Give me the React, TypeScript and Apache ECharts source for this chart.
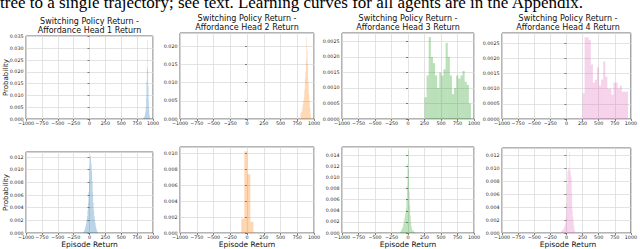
import React, { useEffect, useRef } from "react";
import * as echarts from "echarts";

// ---------- data ----------
const X_MIN = -1000;
const X_MAX = 1000;
const X_STEP = 250;

const captionText =
  "tree to a single trajectory; see text. Learning curves for all agents are in the Appendix.";
const titleLine1 = "Switching Policy Return -";
const headNames = [
  "Affordance Head 1 Return",
  "Affordance Head 2 Return",
  "Affordance Head 3 Return",
  "Affordance Head 4 Return",
];
const yAxisName = "Probability";
const xAxisName = "Episode Return";

// top row: switching policy return histograms (bin start, bin width, densities)
const top1Start = 850;
const top1Width = 6;
const top1Values = [0.0003, 0.0006, 0.001, 0.0015, 0.002, 0.003, 0.005, 0.009, 0.016, 0.022, 0.0335, 0.021, 0.014, 0.008, 0.004, 0.002, 0.001, 0.0005];

const top2Start = 800;
const top2Width = 8;
const top2Values = [0.0015, 0.002, 0.002, 0.003, 0.004, 0.005, 0.006, 0.008, 0.011, 0.013, 0.016, 0.0225, 0.019, 0.015, 0.01, 0.007, 0.005, 0.003, 0.0015];

const top3Start = 250;
const top3Width = 32;
const top3Values = [0.0007, 0.0014, 0.00264, 0.002, 0.0018, 0.0014, 0.001, 0.0015, 0.0014, 0.0016, 0.00245, 0.002, 0.0014, 0.0008, 0.001, 0.0014, 0.0013, 0.0014, 0.00155, 0.0012, 0.0011, 0.0005];

const top4Start = 250;
const top4Width = 32;
const top4Values = [0.00085, 0.0027, 0.0027, 0.0026, 0.0018, 0.0012, 0.0013, 0.0017, 0.0011, 0.0013, 0.0019, 0.0014, 0.001, 0.001, 0.0008, 0.0012, 0.0012, 0.001, 0.0011, 0.0009, 0.0009, 0.0009];

// bottom row: affordance head return histograms
const bot1Start = -96;
const bot1Width = 8;
const bot1Values = [0.0002, 0.0003, 0.0005, 0.0008, 0.0011, 0.0015, 0.002, 0.0027, 0.0036, 0.0048, 0.0065, 0.0085, 0.0105, 0.0122, 0.0118, 0.011, 0.0098, 0.0082, 0.0064, 0.0048, 0.0036, 0.0027, 0.002, 0.0016, 0.0011, 0.0007, 0.0004, 0.0002];

const bot2Start = -85;
const bot2Width = 45;
const bot2Values = [0.0018, 0.0103, 0.0074, 0.0014];

const bot3Start = -120;
const bot3Width = 8;
const bot3Values = [0.0002, 0.0003, 0.0005, 0.0007, 0.0009, 0.0012, 0.0016, 0.0021, 0.0026, 0.0031, 0.0036, 0.0045, 0.006, 0.0085, 0.0125, 0.0148, 0.0115, 0.0075, 0.005, 0.0032, 0.002, 0.0012, 0.0007, 0.0004, 0.0003, 0.0005, 0.0002, 0.0001];

const bot4Start = -80;
const bot4Width = 8;
const bot4Values = [0.0003, 0.0004, 0.0005, 0.0005, 0.0006, 0.0008, 0.001, 0.0013, 0.0018, 0.0025, 0.0045, 0.0075, 0.0095, 0.01, 0.0096, 0.0098, 0.0125, 0.0095, 0.009, 0.0085, 0.006, 0.0035, 0.0025, 0.0018, 0.0012, 0.0006, 0.0003];

// y axis extents (max, tick step, decimals)
const yMaxes = [0.0352, 0.0236, 0.00277, 0.00284, 0.0128, 0.01084, 0.0155, 0.0131];
const ySteps = [0.005, 0.005, 0.0005, 0.0005, 0.002, 0.002, 0.002, 0.002];
const yDecimals = [3, 3, 4, 4, 3, 3, 3, 3];

const palette = ["#1f77b4", "#ff7f0e", "#2ca02c", "#e377c2"];

// ---------- layout ----------
const colLeft = [26, 180, 342, 502];
const colRight = [153, 314, 474, 634];
const topRowTop = [36, 33, 33, 33];
const topRowBottom = 119;
const botRowTop = [152, 147, 147, 148];
const botRowBottom = 233;

function toBins(start: number, width: number, values: number[]) {
  return values.map((v, i) => [start + i * width, start + (i + 1) * width, v]);
}

const panelBins = [
  toBins(top1Start, top1Width, top1Values),
  toBins(top2Start, top2Width, top2Values),
  toBins(top3Start, top3Width, top3Values),
  toBins(top4Start, top4Width, top4Values),
  toBins(bot1Start, bot1Width, bot1Values),
  toBins(bot2Start, bot2Width, bot2Values),
  toBins(bot3Start, bot3Width, bot3Values),
  toBins(bot4Start, bot4Width, bot4Values),
];

const FONT = "DejaVu Sans";
const TICK_FONT = 4.8;

export default function App() {
  const ref = useRef<HTMLDivElement>(null);
  useEffect(() => {
    if (!ref.current) return;
    const chart = echarts.init(ref.current, undefined, { renderer: "svg" });

    const grids: any[] = [];
    const xAxes: any[] = [];
    const yAxes: any[] = [];
    const series: any[] = [];
    const graphics: any[] = [];

    for (let p = 0; p < 8; p++) {
      const row = p < 4 ? 0 : 1;
      const col = p % 4;
      const top = row === 0 ? topRowTop[col] : botRowTop[col];
      const bottom = row === 0 ? topRowBottom : botRowBottom;
      const left = colLeft[col];
      const width = colRight[col] - colLeft[col];
      grids.push({
        left,
        top,
        width,
        height: bottom - top,
        show: true,
        borderColor: "#444",
        borderWidth: 0.8,
        backgroundColor: "transparent",
        containLabel: false,
      });
      xAxes.push({
        type: "value",
        gridIndex: p,
        min: X_MIN,
        max: X_MAX,
        interval: X_STEP,
        axisLine: { show: false },
        axisTick: { show: true, inside: false, length: 2, lineStyle: { color: "#333", width: 0.6 } },
        splitLine: { show: true, lineStyle: { color: "#dcdcdc", width: 0.8 } },
        axisLabel: {
          show: true,
          fontSize: TICK_FONT,
          fontFamily: FONT,
          color: "#222",
          margin: 2,
          formatter: (v: number) => (v < 0 ? "\u2212" + Math.abs(v) : String(v)),
        },
      });
      const step = ySteps[p];
      const dec = yDecimals[p];
      yAxes.push({
        type: "value",
        gridIndex: p,
        min: 0,
        max: yMaxes[p],
        interval: step,
        axisLine: { show: false },
        axisTick: { show: true, inside: false, length: 2, lineStyle: { color: "#333", width: 0.6 } },
        splitLine: { show: true, lineStyle: { color: "#dcdcdc", width: 0.8 } },
        axisLabel: {
          show: true,
          fontSize: TICK_FONT,
          fontFamily: FONT,
          color: "#222",
          margin: 2.5,
          showMaxLabel: false,
          formatter: (v: number) => {
            const k = v / step;
            if (Math.abs(k - Math.round(k)) > 1e-6) return "";
            return v.toFixed(dec);
          },
        },
      });
      const color = palette[col];
      series.push({
        type: "custom",
        xAxisIndex: p,
        yAxisIndex: p,
        data: panelBins[p],
        encode: { x: [0, 1], y: 2 },
        clip: true,
        renderItem: (params: any, api: any) => {
          const x0 = api.value(0);
          const x1 = api.value(1);
          const y = api.value(2);
          const a = api.coord([x0, y]);
          const b = api.coord([x1, 0]);
          return {
            type: "rect",
            shape: { x: a[0], y: a[1], width: b[0] - a[0], height: b[1] - a[1] },
            style: { fill: color, opacity: 0.33 },
          };
        },
      });

      const cx = left + width / 2;
      if (row === 0) {
        graphics.push({
          type: "text",
          x: cx,
          y: top - 15,
          style: {
            text: titleLine1,
            font: `8px "${FONT}"`,
            fill: "#111",
            align: "center",
            verticalAlign: "middle",
          },
        });
        graphics.push({
          type: "text",
          x: cx,
          y: top - 6,
          style: {
            text: headNames[col],
            font: `8px "${FONT}"`,
            fill: "#111",
            align: "center",
            verticalAlign: "middle",
          },
        });
      } else {
        graphics.push({
          type: "text",
          x: cx,
          y: 244.5,
          style: {
            text: xAxisName,
            font: `7.5px "${FONT}"`,
            fill: "#111",
            align: "center",
            verticalAlign: "middle",
          },
        });
      }
      if (col === 0) {
        graphics.push({
          type: "text",
          x: 5.5,
          y: (top + bottom) / 2,
          rotation: Math.PI / 2,
          style: {
            text: yAxisName,
            font: `7px "${FONT}"`,
            fill: "#111",
            align: "center",
            verticalAlign: "middle",
          },
        });
      }
    }

    graphics.push({
      type: "text",
      x: 0,
      y: 2.3,
      style: {
        text: captionText,
        font: `17px "Liberation Serif"`,
        fill: "#000",
        align: "left",
        verticalAlign: "middle",
      },
    });

    chart.setOption({
      animation: false,
      backgroundColor: "#fff",
      grid: grids,
      xAxis: xAxes,
      yAxis: yAxes,
      series,
      graphic: graphics,
    });
    return () => chart.dispose();
  }, []);

  return (
    <div
      ref={ref}
      style={{ position: "fixed", left: 0, top: 0, width: 640, height: 249 }}
    />
  );
}
